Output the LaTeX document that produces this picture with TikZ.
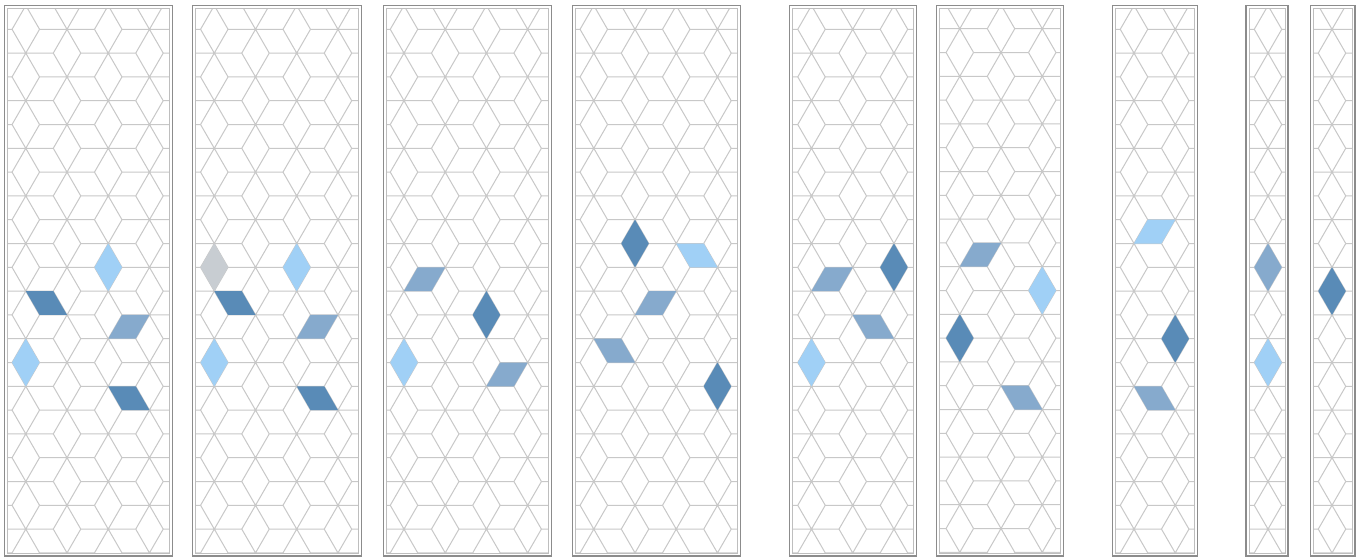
\documentclass[tikz,border=0pt]{standalone}
\usepackage{tikz}
\definecolor{lightB}{RGB}{160,208,246}
\definecolor{midB}{RGB}{134,170,205}
\definecolor{darkB}{RGB}{89,139,183}
\definecolor{greyT}{RGB}{200,205,210}
\definecolor{gridC}{RGB}{200,200,200}
\definecolor{frameO}{RGB}{140,140,140}
\definecolor{frameI}{RGB}{190,190,190}
\tikzset{
  gridline/.style={draw=gridC,line width=1pt},
  outerframe/.style={draw=frameO,line width=1.3pt},
  innerframe/.style={draw=frameI,line width=0.9pt},
}
\def\ss{27.48}
\def\hh{23.8}
\def\sA{41.22}
\newcommand\tileV[3]{\pgfmathsetmacro\X{\pax+\sA*#1}\pgfmathsetmacro\Y{\pay+\hh*#1+2*\hh*#2}%
  \fill[#3] (\X,\Y) -- ++(\ss/2,\hh) -- ++(-\ss/2,\hh) -- ++(-\ss/2,-\hh) -- cycle;}
\newcommand\tileB[3]{\pgfmathsetmacro\X{\pax+\sA*#1}\pgfmathsetmacro\Y{\pay+\hh*#1+2*\hh*#2}%
  \fill[#3] (\X,\Y) -- ++(\ss,0) -- ++(\ss/2,\hh) -- ++(-\ss,0) -- cycle;}
\newcommand\tileF[3]{\pgfmathsetmacro\X{\pax+\sA*#1}\pgfmathsetmacro\Y{\pay+\hh*#1+2*\hh*#2}%
  \fill[#3] (\X,\Y) -- ++(-\ss,0) -- ++(-\ss/2,\hh) -- ++(\ss,0) -- cycle;}
\newcommand\mypanel[5]{%
  \def\pax{#3}\def\pay{#4}%
  \begin{scope}
    \clip (#1+3,8.5) rectangle (#2-3,553);
    \foreach \m in {-2,...,5}{
      \foreach \n in {-8,...,7}{
        \pgfmathsetmacro\X{#3+\sA*\m}
        \pgfmathsetmacro\Y{#4+\hh*\m+2*\hh*\n}
        \draw[gridline] (\X-\ss,\Y) -- (\X+\ss,\Y)
          (\X-\ss/2,\Y-\hh) -- (\X+\ss/2,\Y+\hh)
          (\X+\ss/2,\Y-\hh) -- (\X-\ss/2,\Y+\hh);
      }}
    #5
  \end{scope}
  \draw[outerframe] (#1,5.5) rectangle (#2,556);
  \draw[innerframe] (#1+3,8.5) rectangle (#2-3,553);
}
\begin{document}
\begin{tikzpicture}[x=1pt,y=-1pt]
\useasboundingbox[fill=white] (0,0) rectangle (1363,557);
\mypanel{4.5}{172.7}{25.8}{338.7}{%
  \tileV{2}{-3}{lightB}\tileB{0}{-1}{darkB}\tileF{3}{-2}{midB}\tileV{0}{0}{lightB}\tileB{2}{0}{darkB}}
\mypanel{192.5}{361.5}{214.3}{338.7}{%
  \tileV{2}{-3}{lightB}\tileB{0}{-1}{darkB}\tileF{3}{-2}{midB}\tileV{0}{0}{lightB}\tileB{2}{0}{darkB}\tileV{0}{-2}{greyT}}
\mypanel{383.8}{551.7}{404}{338.7}{%
  \tileF{1}{-2}{midB}\tileV{2}{-2}{darkB}\tileV{0}{0}{lightB}\tileF{3}{-1}{midB}}
\mypanel{572.3}{740.7}{593.8}{338.7}{%
  \tileV{1}{-3}{darkB}\tileB{2}{-3}{lightB}\tileF{2}{-2}{midB}\tileB{0}{0}{midB}\tileV{3}{-1}{darkB}}
\mypanel{789.3}{916.7}{811.5}{338.7}{%
  \tileF{1}{-2}{midB}\tileV{2}{-3}{darkB}\tileB{1}{-1}{midB}\tileV{0}{0}{lightB}}
\mypanel{936.5}{1063.5}{959.8}{314.3}{%
  \tileF{1}{-2}{midB}\tileV{2}{-2}{lightB}\tileV{0}{0}{darkB}\tileB{1}{1}{midB}}
\mypanel{1112.5}{1197.5}{1134}{338.7}{%
  \tileF{1}{-3}{lightB}\tileV{1}{-1}{darkB}\tileB{0}{1}{midB}}
\mypanel{1246}{1288}{1268}{338.7}{%
  \tileV{0}{-2}{midB}\tileV{0}{0}{lightB}}
\mypanel{1310.3}{1355}{1332}{314.9}{%
  \tileV{0}{-1}{darkB}}
\end{tikzpicture}
\end{document}
